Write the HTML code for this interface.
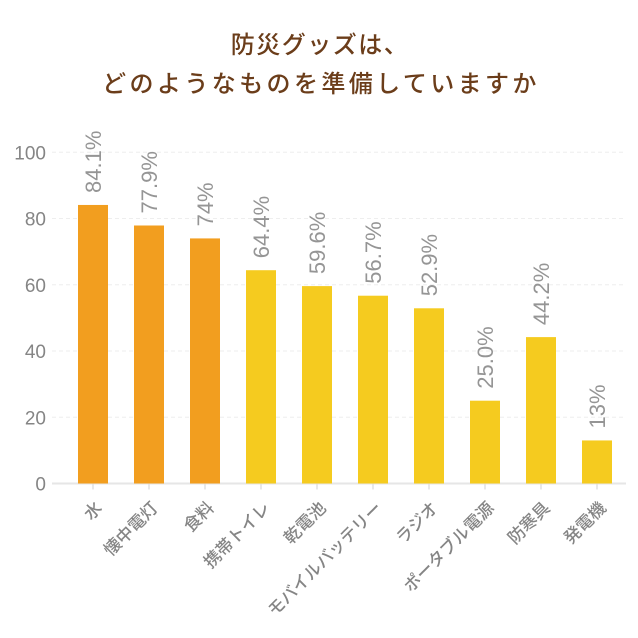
<!DOCTYPE html>
<html><head><meta charset="utf-8"><style>
body{margin:0;background:#fff}
svg{display:block;font-family:"Liberation Sans","Noto Sans CJK JP",sans-serif}
</style></head><body>
<svg id="chart" width="638" height="638" viewBox="0 0 638 638">
<text x="320" y="53" text-anchor="middle" font-size="24" letter-spacing="1.5" fill="#6b3d1a" font-weight="500">防災グッズは、</text>
<text x="321" y="92" text-anchor="middle" font-size="24" letter-spacing="3.4" fill="#6b3d1a" font-weight="500">どのようなものを準備していますか</text>
<g id="grid"></g><g id="bars"></g><g id="labels"></g>
</svg>
<script>
const categories=["水","懐中電灯","食料","携帯トイレ","乾電池","モバイルバッテリー","ラジオ","ポータブル電源","防寒具","発電機"];
const values=[84.1,77.9,74,64.4,59.6,56.7,52.9,25.0,44.2,13];
const valueLabels=["84.1%","77.9%","74%","64.4%","59.6%","56.7%","52.9%","25.0%","44.2%","13%"];
const highlightCount=3;
const yTicks=[0,20,40,60,80,100];
const NS="http://www.w3.org/2000/svg";
const x0=52,x1=626,yBase=483.5,yTop=152.3,step=56,firstC=93,bw=30;
const y=v=>yBase-(v/100)*(yBase-yTop);
const xc=i=>firstC+i*step;
function mk(t,a,p){const e=document.createElementNS(NS,t);for(const k in a)e.setAttribute(k,a[k]);p.appendChild(e);return e;}
const grid=document.getElementById('grid'),bars=document.getElementById('bars'),labels=document.getElementById('labels');
yTicks.forEach(t=>{
  const l=mk('line',{x1:x0,x2:x1,y1:y(t),y2:y(t),stroke:t===0?'#e6e6e6':'#eeeeee','stroke-width':t===0?2:1,'stroke-dasharray':t===0?'':'4,3'},grid);
  
  
  const tx=mk('text',{x:46,y:y(t)+7,'text-anchor':'end','font-size':19,fill:'#858585'},grid);
  tx.textContent=t;
  
  
});
categories.forEach((c,i)=>{
  const r=mk('rect',{x:xc(i)-bw/2,y:y(values[i]),width:bw,height:yBase-y(values[i]),fill:i<highlightCount?'#f29e1f':'#f5cb1f'},bars);
  
  
  const tk=mk('line',{x1:xc(i),x2:xc(i),y1:yBase,y2:yBase+6,stroke:'#e0e0e0','stroke-width':1.5},grid);
  
  
  const vy=y(values[i])-12;
  const vx=xc(i)+8;
  const v=mk('text',{x:vx,y:vy,transform:`rotate(-90 ${vx} ${vy})`,'font-size':22,fill:'#959595'},labels);
  v.textContent=valueLabels[i];
  
  
  const lx=xc(i)+10,ly=509;
  const cl=mk('text',{x:lx,y:ly,transform:`rotate(-45 ${lx} ${ly})`,'text-anchor':'end','font-size':17,fill:'#858585','font-weight':'500'},labels);
  cl.textContent=c;
  
  
});
</script>
</body></html>
